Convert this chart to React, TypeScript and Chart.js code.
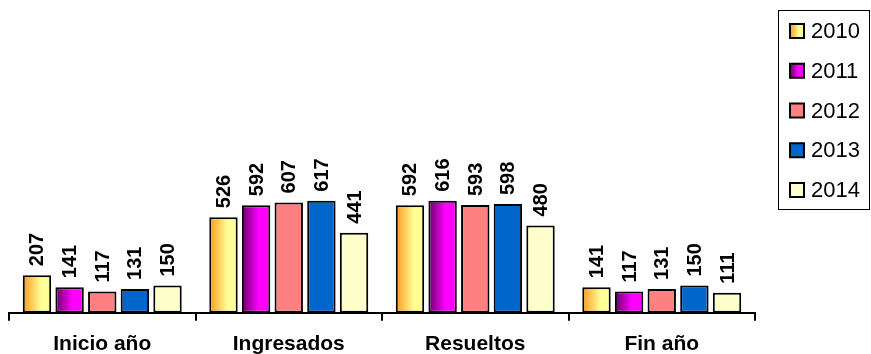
import React, { useEffect, useRef } from 'react';
import { Chart, registerables } from 'chart.js';

Chart.register(...registerables);

const categories = ['Inicio año', 'Ingresados', 'Resueltos', 'Fin año'];
const seriesLabels = ['2010', '2011', '2012', '2013', '2014'];
const values2010 = [207, 526, 592, 141];
const values2011 = [141, 592, 616, 117];
const values2012 = [117, 607, 593, 131];
const values2013 = [131, 617, 598, 150];
const values2014 = [150, 441, 480, 111];

const CAT_PCT = 0.875;
const BAR_PCT = 0.87;
const FONT = 'Arial, "Liberation Sans", sans-serif';

// color stops per series (left -> right)
const seriesStops: [number, string][][] = [
  [[0, '#FF9A1F'], [0.65, '#FFFF99'], [1, '#FFFF99']],
  [[0, '#660066'], [0.6, '#FF00FF'], [1, '#FF00FF']],
  [[0, '#FF8080'], [1, '#FF8080']],
  [[0, '#0066CC'], [1, '#0066CC']],
  [[0, '#FFFFCC'], [1, '#FFFFCC']],
];

function makeGrad(ctx: CanvasRenderingContext2D, x0: number, x1: number, stops: [number, string][]) {
  if (stops.length === 2 && stops[0][1] === stops[1][1]) return stops[0][1];
  if (!isFinite(x0) || !isFinite(x1) || x1 <= x0) return stops[stops.length - 1][1];
  const g = ctx.createLinearGradient(x0, 0, x1, 0);
  stops.forEach(([o, c]) => g.addColorStop(o, c));
  return g;
}

const valueLabels = {
  id: 'valueLabels',
  afterDatasetsDraw(chart: any) {
    const ctx = chart.ctx;
    chart.data.datasets.forEach((ds: any, di: number) => {
      const meta = chart.getDatasetMeta(di);
      meta.data.forEach((el: any, i: number) => {
        ctx.save();
        ctx.translate(el.x + 1, el.y - 9);
        ctx.rotate(-Math.PI / 2);
        ctx.font = `bold 20px ${FONT}`;
        ctx.fillStyle = '#000';
        ctx.textAlign = 'left';
        ctx.textBaseline = 'middle';
        ctx.fillText(String(ds.data[i]), 0, 0);
        ctx.restore();
      });
    });
  },
};

const boxLegend = {
  id: 'boxLegend',
  afterDraw(chart: any) {
    const ctx = chart.ctx;
    ctx.save();
    ctx.strokeStyle = '#000';
    ctx.lineWidth = 1;
    ctx.strokeRect(778.5, 10.5, 91, 199);
    chart.data.datasets.forEach((ds: any, di: number) => {
      const cy = 31 + di * 39.75;
      const sx = 790, sw = 14;
      ctx.fillStyle = makeGrad(ctx, sx, sx + sw, seriesStops[di]);
      ctx.fillRect(sx, cy - sw / 2, sw, sw);
      ctx.lineWidth = 2;
      ctx.strokeStyle = '#000';
      ctx.strokeRect(sx, cy - sw / 2, sw, sw);
      ctx.fillStyle = '#000';
      ctx.font = `22px ${FONT}`;
      ctx.textAlign = 'left';
      ctx.textBaseline = 'middle';
      ctx.fillText(ds.label, 811, cy + 1);
    });
    ctx.restore();
  },
};

function barFill(di: number) {
  return (context: any) => {
    const chart = context.chart;
    const xs = chart.scales?.x;
    const stops = seriesStops[di];
    if (!xs || context.dataIndex === undefined || !xs.width) return stops[stops.length - 1][1];
    const catW = xs.width / categories.length;
    const center = xs.getPixelForValue(context.dataIndex);
    const slot = (catW * CAT_PCT) / seriesLabels.length;
    const bc = center - (catW * CAT_PCT) / 2 + slot * (di + 0.5);
    const bw = slot * BAR_PCT;
    return makeGrad(chart.ctx, bc - bw / 2, bc + bw / 2, stops);
  };
}

export default function App() {
  const ref = useRef<HTMLCanvasElement>(null);
  useEffect(() => {
    if (!ref.current) return;
    const series = [values2010, values2011, values2012, values2013, values2014];
    const chart = new Chart(ref.current, {
      type: 'bar',
      data: {
        labels: categories,
        datasets: series.map((vals, di) => ({
          label: seriesLabels[di],
          data: vals,
          backgroundColor: barFill(di),
          borderColor: '#000',
          borderWidth: 2,
          borderSkipped: false,
          categoryPercentage: CAT_PCT,
          barPercentage: BAR_PCT,
        })),
      },
      options: {
        animation: false,
        responsive: false,
        layout: { padding: { left: 9, right: 116, top: 22, bottom: 0 } },
        plugins: { legend: { display: false }, tooltip: { enabled: false } },
        scales: {
          x: {
            grid: {
              display: true,
              drawOnChartArea: false,
              drawTicks: true,
              tickLength: 8,
              color: '#000',
              lineWidth: 2,
              offset: true,
            },
            border: { display: true, color: '#000', width: 2 },
            ticks: {
              color: '#000',
              font: { family: FONT, size: 21, weight: 'bold' },
              padding: 11,
              maxRotation: 0,
              autoSkip: false,
            },
          },
          y: { display: false, min: 0, max: 1600 },
        },
      },
      plugins: [valueLabels, boxLegend],
    });
    return () => chart.destroy();
  }, []);
  return (
    <div style={{ position: 'absolute', left: 0, top: 0, width: 871, height: 354, overflow: 'hidden', background: '#fff' }}>
      <canvas ref={ref} width={871} height={368} style={{ display: 'block' }} />
    </div>
  );
}
